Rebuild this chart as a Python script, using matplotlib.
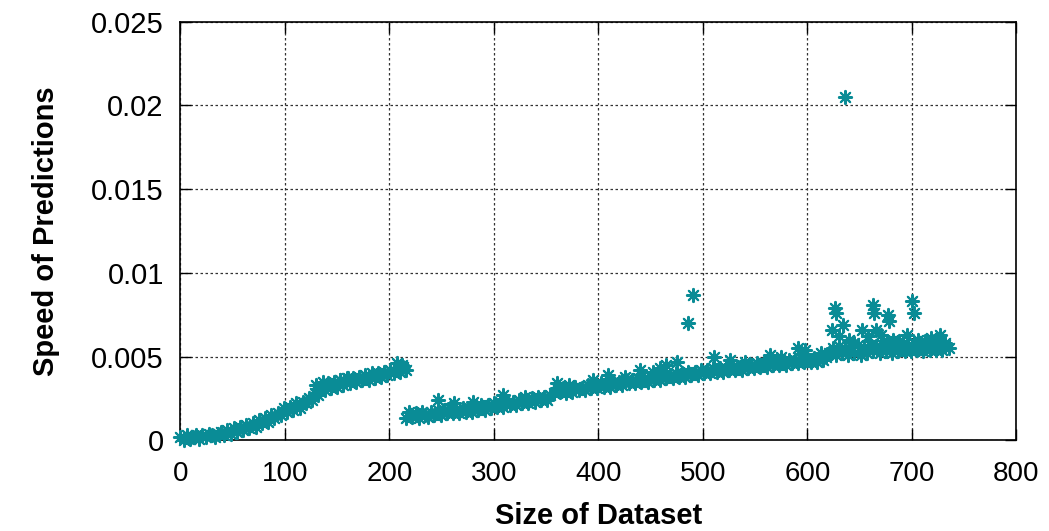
import matplotlib.pyplot as plt
import numpy as np

plt.rcParams['font.family'] = ['Liberation Sans', 'DejaVu Sans']

teal = '#0a8c96'

# first run: dataset sizes 0..216, every 3rd
x1 = np.arange(0, 217, 3)
y1 = [0.0002, 0.0000, 0.0003, 0.0001, 0.0002, 0.0003, 0.0001, 0.0003, 0.0002, 0.0004,
      0.0003, 0.0002, 0.0004, 0.0005, 0.0003, 0.0006, 0.0004, 0.0007, 0.0005, 0.0008,
      0.0006, 0.0009, 0.0007, 0.0010, 0.0008, 0.0012, 0.0010, 0.0013, 0.0011, 0.0015,
      0.0013, 0.0016, 0.0015, 0.0019, 0.0017, 0.0020, 0.0018, 0.0022, 0.0019, 0.0023,
      0.0022, 0.0025, 0.0024, 0.0028, 0.0027, 0.0032, 0.0030, 0.0034, 0.0031, 0.0035,
      0.0032, 0.0036, 0.0033, 0.0037, 0.0034, 0.0037, 0.0035, 0.0038, 0.0036, 0.0039,
      0.0036, 0.0040, 0.0037, 0.0040, 0.0038, 0.0041, 0.0039, 0.0042, 0.0040, 0.0043,
      0.0041, 0.0044, 0.0042]

# second run: dataset sizes 216..735, every 3rd
x2 = np.arange(216, 736, 3)
y2 = [0.0013, 0.0017, 0.0014, 0.0016, 0.0013, 0.0017, 0.0015, 0.0014, 0.0017, 0.0015,
      0.0018, 0.0015, 0.0018, 0.0016, 0.0019, 0.0016, 0.0018, 0.0016, 0.0019, 0.0017,
      0.0019, 0.0017, 0.0020, 0.0018, 0.0021, 0.0018, 0.0021, 0.0019, 0.0022, 0.0020,
      0.0023, 0.0020, 0.0022, 0.0021, 0.0023, 0.0021, 0.0024, 0.0022, 0.0024, 0.0022,
      0.0025, 0.0023, 0.0026, 0.0024, 0.0026, 0.0024, 0.0027, 0.0028, 0.0031, 0.0029,
      0.0031, 0.0028, 0.0031, 0.0029, 0.0032, 0.0030, 0.0031, 0.0030, 0.0033, 0.0031,
      0.0033, 0.0031, 0.0034, 0.0032, 0.0034, 0.0032, 0.0035, 0.0033, 0.0035, 0.0033,
      0.0036, 0.0034, 0.0036, 0.0034, 0.0037, 0.0035, 0.0037, 0.0035, 0.0038, 0.0036,
      0.0038, 0.0036, 0.0039, 0.0037, 0.0039, 0.0037, 0.0040, 0.0038, 0.0040, 0.0038,
      0.0041, 0.0039, 0.0041, 0.0039, 0.0042, 0.0040, 0.0042, 0.0040, 0.0043, 0.0041,
      0.0043, 0.0041, 0.0043, 0.0042, 0.0044, 0.0042, 0.0044, 0.0042, 0.0045, 0.0043,
      0.0045, 0.0043, 0.0046, 0.0044, 0.0046, 0.0044, 0.0047, 0.0045, 0.0047, 0.0045,
      0.0047, 0.0045, 0.0048, 0.0046, 0.0048, 0.0046, 0.0049, 0.0047, 0.0049, 0.0047,
      0.0049, 0.0047, 0.0050, 0.0048, 0.0050, 0.0052, 0.0055, 0.0051, 0.0056, 0.0052,
      0.0055, 0.0051, 0.0056, 0.0052, 0.0057, 0.0051, 0.0055, 0.0052, 0.0057, 0.0053,
      0.0056, 0.0052, 0.0057, 0.0053, 0.0056, 0.0052, 0.0058, 0.0053, 0.0057, 0.0053,
      0.0056, 0.0053, 0.0058, 0.0054, 0.0057, 0.0053, 0.0058, 0.0054, 0.0057, 0.0054,
      0.0058, 0.0054, 0.0057, 0.0055]

# points sticking out above the band
x3 = [130, 136, 153, 160, 207, 212,
      246, 262, 280, 309, 330, 360, 372, 395, 409, 425, 440, 452, 459, 465,
      475, 486, 490, 511, 526, 540, 564, 575, 591, 598, 613, 623, 626, 627,
      630, 634, 636, 640, 645, 652, 658, 663, 664, 666, 670, 676, 677, 678,
      682, 688, 695, 700, 702, 706, 712, 718, 727, 732]
y3 = [0.0033, 0.0035, 0.0036, 0.0037, 0.0046, 0.0045,
      0.0024, 0.0022, 0.0023, 0.0027, 0.0026, 0.0034, 0.0033, 0.0036, 0.0039, 0.0038, 0.0042, 0.0041, 0.0043, 0.0045,
      0.0047, 0.0070, 0.0087, 0.0050, 0.0048, 0.0047, 0.0051, 0.0050, 0.0055, 0.0054, 0.0052, 0.0066, 0.0079, 0.0076,
      0.0062, 0.0069, 0.0205, 0.0060, 0.0058, 0.0066, 0.0062, 0.0081, 0.0076, 0.0066, 0.0063, 0.0059, 0.0075, 0.0071,
      0.0060, 0.0059, 0.0063, 0.0083, 0.0076, 0.0060, 0.0059, 0.0061, 0.0063, 0.0058]

fig = plt.figure(figsize=(10.49, 5.31), dpi=100)
ax = fig.add_axes([0.172, 0.171, 0.797, 0.788])

star = (8, 2, 0)
for xs, ys in [(x1, y1), (x2, y2), (x3, y3)]:
    ax.scatter(xs, ys, marker=star, s=90, color=teal, linewidths=1.5,
               zorder=3, clip_on=False)

ax.set_xlim(0, 800)
ax.set_ylim(0, 0.025)
ax.set_xticks(np.arange(0, 801, 100))
ax.set_yticks([0, 0.005, 0.01, 0.015, 0.02, 0.025])
ax.set_yticklabels(['0', '0.005', '0.01', '0.015', '0.02', '0.025'])

ax.grid(True, color='#333333', linestyle=(0, (2, 2)), linewidth=0.9)
ax.tick_params(direction='in', length=8, width=1, top=True, right=True)
ax.tick_params(axis='y', labelsize=21, pad=12)
ax.tick_params(axis='x', labelsize=20, pad=15)
for s in ax.spines.values():
    s.set_linewidth(1.2)

ax.set_xlabel('Size of Dataset', fontsize=21, fontweight='bold', labelpad=11)
ax.set_ylabel('Speed of Predictions', fontsize=21, fontweight='bold', labelpad=22)

plt.savefig('out.png', dpi=100)
